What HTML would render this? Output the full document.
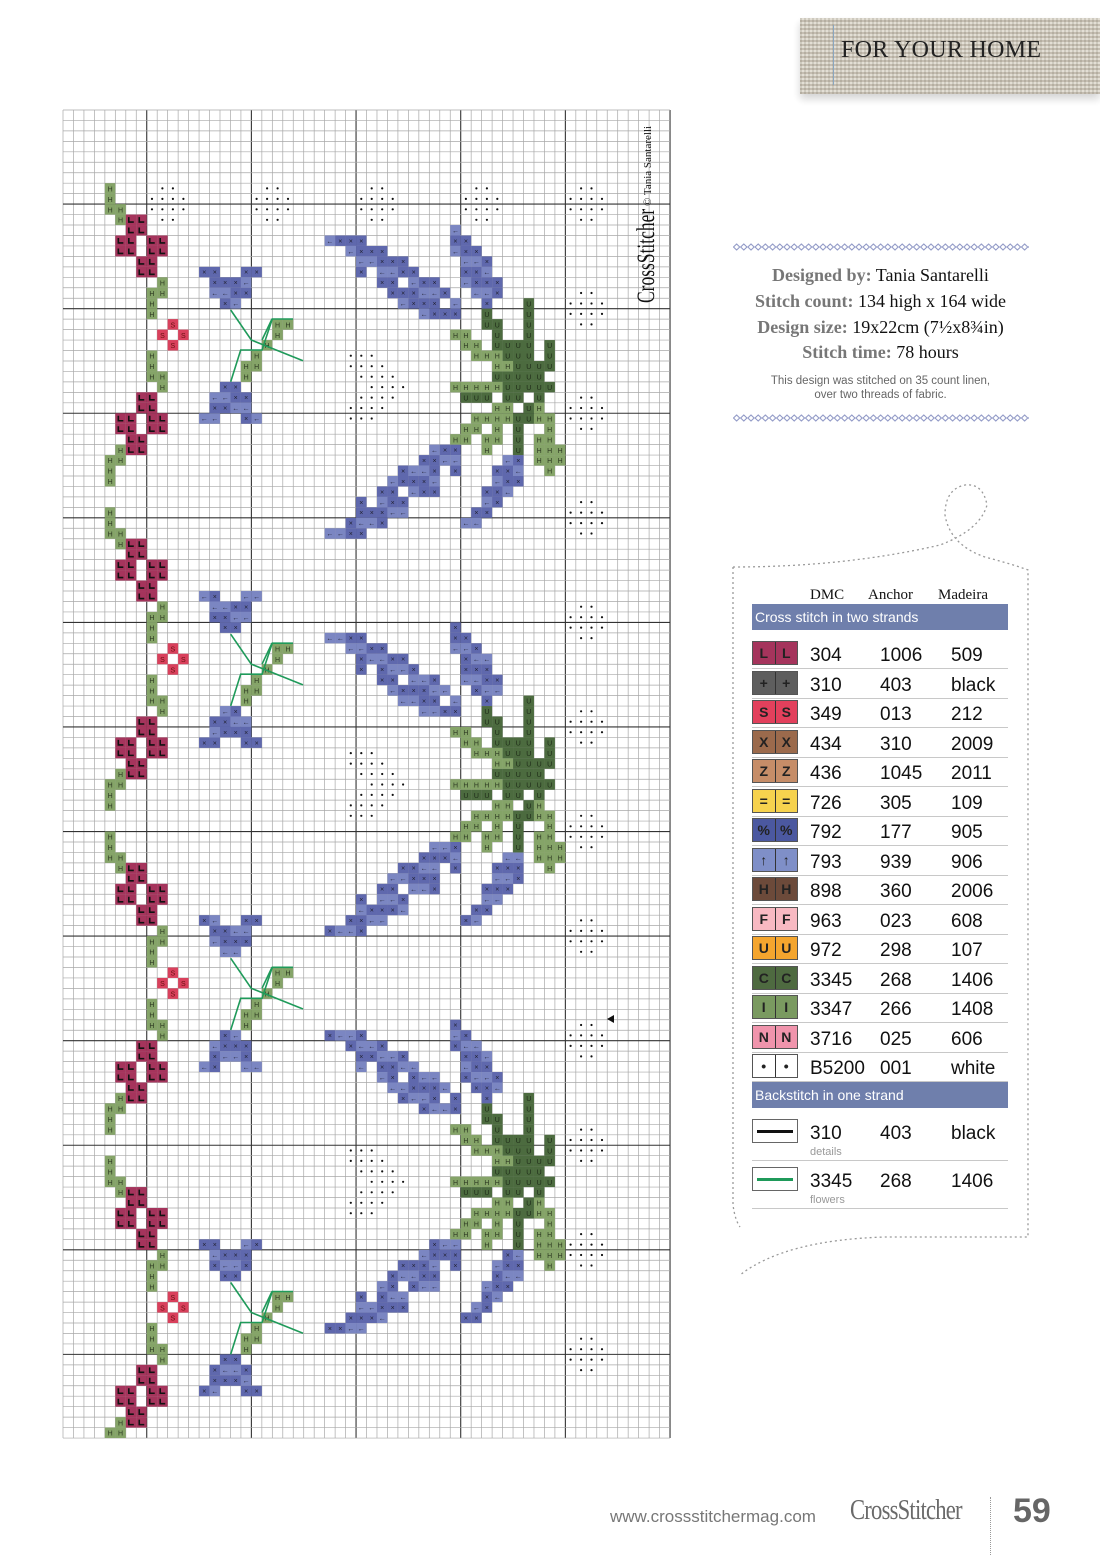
<!DOCTYPE html>
<html><head><meta charset="utf-8">
<style>
body{margin:0;background:#fff;}
#pg{position:relative;width:1100px;height:1555px;overflow:hidden;background:#fff;font-family:"Liberation Sans",sans-serif;}
.abs{position:absolute;}
.info{position:absolute;left:733px;width:295px;text-align:center;font-family:"Liberation Serif",serif;font-size:18px;color:#111;white-space:nowrap;}
.info b{color:#777;}
.row{position:absolute;left:752px;width:256px;height:28px;border-bottom:1px solid #c8c8c8;}
.sw{position:absolute;left:0;top:1px;width:44px;height:22px;border:1px solid #555;display:flex;}
.sw span{flex:1;display:flex;align-items:center;justify-content:center;font-size:14px;font-weight:bold;color:#222;border-right:1px solid #333;}
.sw span:last-child{border-right:none;}
.t{position:absolute;top:5px;font-size:19px;color:#111;}
.bar{position:absolute;left:752px;width:256px;height:26px;background:#6f7fac;color:#fff;font-size:14px;line-height:26px;padding-left:3px;box-sizing:border-box;}
</style></head><body>
<div id="pg">
<svg id="chart" class="abs" style="left:0;top:0" width="1100" height="1555"></svg>

<div class="abs" style="left:800px;top:18px;width:300px;height:76px;background:repeating-linear-gradient(90deg,#c4beb1 0 2px,#ddd8cc 2px 4px),#d2ccc0;box-shadow:0 5px 8px rgba(0,0,0,0.18);opacity:0.95"></div>
<div class="abs" style="left:800px;top:18px;width:300px;height:76px;background:repeating-linear-gradient(0deg,rgba(150,140,125,0.35) 0 2px,rgba(255,255,255,0.15) 2px 4px)"></div>
<div class="abs" style="left:833px;top:25px;width:1px;height:60px;background:#8aa6c0"></div>
<div class="abs" style="left:841px;top:37px;font-family:'Liberation Serif',serif;font-size:24px;color:#222;letter-spacing:0.3px">FOR YOUR HOME</div>

<svg class="abs" style="left:733px;top:242px" width="296" height="10"><defs><pattern id="dm" width="7.2" height="10" patternUnits="userSpaceOnUse"><path d="M0.5 5 L3.6 2 L6.7 5 L3.6 8Z" fill="none" stroke="#8c95c4" stroke-width="1"/></pattern></defs><rect width="296" height="10" fill="url(#dm)"/></svg>
<svg class="abs" style="left:733px;top:413px" width="296" height="10"><rect width="296" height="10" fill="url(#dm)"/></svg>

<div class="info" style="top:265px"><b>Designed by:</b> Tania Santarelli</div>
<div class="info" style="top:291px"><b>Stitch count:</b> 134 high x 164 wide</div>
<div class="info" style="top:317px"><b>Design size:</b> 19x22cm (7½x8¾in)</div>
<div class="info" style="top:342px"><b>Stitch time:</b> 78 hours</div>
<div class="abs" style="left:733px;top:374px;width:295px;text-align:center;font-size:11.5px;color:#666;line-height:14px">This design was stitched on 35 count linen,<br>over two threads of fabric.</div>

<svg class="abs" style="left:725px;top:475px" width="320" height="810">
<path d="M8 92 L8 730 Q10 745 15 752" fill="none" stroke="#999" stroke-width="1.3" stroke-dasharray="2 3"/>
<path d="M8 92 Q120 92 215 70 Q255 55 262 30 Q258 8 240 10 Q220 14 220 40 Q225 70 260 82 Q290 90 303 95 L303 762 L160 762 Q60 765 15 800" fill="none" stroke="#999" stroke-width="1.3" stroke-dasharray="2 3"/>
</svg>

<div class="abs" style="left:810px;top:587px;font-family:'Liberation Serif',serif;font-size:15px;color:#111">DMC</div>
<div class="abs" style="left:868px;top:587px;font-family:'Liberation Serif',serif;font-size:15px;color:#111">Anchor</div>
<div class="abs" style="left:938px;top:587px;font-family:'Liberation Serif',serif;font-size:15px;color:#111">Madeira</div>
<div class="bar" style="top:604px">Cross stitch in two strands</div>
<div id="legend"></div>
<div class="bar" style="top:1082px">Backstitch in one strand</div>
<div class="row" style="top:1118px;height:42px"><div class="sw" style="height:22px;border-color:#666"><div style="position:absolute;left:4px;right:4px;top:10px;height:3px;background:#111"></div></div><div class="t" style="left:58px">310</div><div class="t" style="left:128px">403</div><div class="t" style="left:199px">black</div><div class="abs" style="left:58px;top:28px;font-size:11px;color:#999">details</div></div>
<div class="row" style="top:1166px;height:42px"><div class="sw" style="height:22px;border-color:#666"><div style="position:absolute;left:4px;right:4px;top:10px;height:3px;background:#1f9a5a"></div></div><div class="t" style="left:58px">3345</div><div class="t" style="left:128px">268</div><div class="t" style="left:199px">1406</div><div class="abs" style="left:58px;top:28px;font-size:11px;color:#999">flowers</div></div>

<div class="abs" style="left:610px;top:1507px;font-size:17px;color:#777">www.crossstitchermag.com</div>
<div class="abs" style="left:850px;top:1494px;font-family:'Liberation Serif',serif;font-size:29px;color:#6a6a6a;transform:scaleX(0.78);transform-origin:left;letter-spacing:-1px">CrossStitcher</div>
<div class="abs" style="left:990px;top:1497px;width:0;height:58px;border-left:1.5px dotted #999"></div>
<div class="abs" style="left:1013px;top:1492px;font-size:34px;font-weight:bold;color:#666">59</div>
</div>
<script>
(function(){
var svg=document.getElementById('chart');
var X0=63,Y0=110,CW=10.466,CH=10.457,NC=58,NR=127;
var h='';
function R(x,y,w,hh,f){h+='<rect x="'+x.toFixed(2)+'" y="'+y.toFixed(2)+'" width="'+w.toFixed(2)+'" height="'+hh.toFixed(2)+'" fill="'+f+'"/>';}
var col={B:'#5f68ad',b:'#7b86c2',U:'#4c6b3f',H:'#85a468',L:'#a5345c',S:'#d9405c'};
var cells=[];
function cell(r,c,t){if(r<0||r>=NR||c<0||c>=NC)return;cells.push([r,c,t]);}
function spans(list,dr,t){list.forEach(function(s){var r=s[0]+dr;for(var i=1;i<s.length;i++){var a=s[i];if(typeof a==='number')cell(r,a,t);else for(var c=a[0];c<=a[1];c++)cell(r,c,t);}});}
var LH=[[7,4],[8,4],[9,4,5],[10,5],[16,9],[17,8,9],[18,8],[19,8],[23,8],[24,8],[25,8,9],[26,9],[32,5],[33,4,5],[34,4],[35,4],
[20,[20,21]],[21,20],[22,19],[23,18],[24,17,18],[25,17]];
var LL=[[10,6,7],[11,6,7],[12,5,6,8,9],[13,5,6,8,9],[14,7,8],[15,7,8],[27,7,8],[28,7,8],[29,5,6,8,9],[30,5,6,8,9],[31,6,7],[32,6,7]];
var LS=[[20,10],[21,9,11],[22,10]];
var LB=[[15,13,14,17,18],[16,[14,17]],[17,[14,17]],[18,15,16],[26,15,16],[27,[14,17]],[28,[14,17]],[29,13,14,17,18]];
var lines='';
for(var k=0;k<4;k++){var d=k*31;spans(LH,d,'H');spans(LL,d,'L');spans(LS,d,'S');spans(LB,d,'B');
var oy=d*CH;
lines+='<polyline points="230.7,'+(310+oy)+' 251.3,'+(340+oy)+' 303,'+(360.7+oy)+'" fill="none" stroke="#1f9a5a" stroke-width="1.6"/>';
lines+='<polyline points="230.7,'+(381.7+oy)+' 240.7,'+(350+oy)+' 262,'+(350+oy)+' 272.3,'+(319+oy)+' 293,'+(319+oy)+'" fill="none" stroke="#1f9a5a" stroke-width="1.6"/>';
lines+='<line x1="262" y1="'+(340+oy)+'" x2="272" y2="'+(319+oy)+'" stroke="#1f9a5a" stroke-width="1.6"/>';
}
var BB=[[11,37],[12,[25,28],37,38],[13,[27,30],[37,39]],[14,[28,32],[38,40]],[15,28,[30,33],[38,40]],[16,30,31,[33,35],[38,41]],[17,[31,36],[39,41]],[18,[32,35],37,40],[19,[34,37]],
[32,[35,37]],[33,[34,37],42,43],[34,[32,35],37,[41,43]],[35,[31,35],[41,43]],[36,30,31,[33,35],[40,42]],[37,28,[30,32],40,41],[38,[28,32],39,40],[39,[27,30],38,39],[40,[25,28]]];
var BU=[[18,44],[19,40,44],[20,40,41,44],[21,41,44],[22,[41,44],46],[23,[42,44],46],[24,[43,46]],[25,[41,45]],[26,[42,46]],[27,[38,40],42,43,45],[28,44],[29,43,44],[30,43],[31,43],[32,43]];
var BH=[[21,37,38],[22,38,39],[23,[39,41]],[24,41,42],[26,[37,41]],[28,41,42,45],[29,[39,42],45,46],[30,38,39,41,46],[31,37,38,40,41,45,46],[32,40,[45,47]],[33,[45,47]],[34,46]];
for(var k=0;k<3;k++){var d=k*38;spans(BB,d,'B');spans(BU,d,'U');spans(BH,d,'H');}
cells.forEach(function(e){var t=e[2];if(t==='B'&&((e[0]*3+e[1])%5<2))t='b';
var x=X0+e[1]*CW,y=Y0+e[0]*CH;R(x,y,CW,CH,col[t]);
if(t==='B'||t==='b'){h+='<text x="'+(x+CW/2)+'" y="'+(y+CH*0.75)+'" font-size="7" text-anchor="middle" fill="#223" font-family="Liberation Sans">'+(t==='B'?'×':'←')+'</text>';}
else if(t==='U'){h+='<text x="'+(x+CW/2)+'" y="'+(y+CH*0.78)+'" font-size="7" text-anchor="middle" fill="#1d2a17" font-family="Liberation Sans">U</text>';}
else if(t==='H'){h+='<text x="'+(x+CW/2)+'" y="'+(y+CH*0.78)+'" font-size="7" text-anchor="middle" fill="#2d3a22" font-family="Liberation Sans">H</text>';}
else if(t==='L'){h+='<path d="M'+(x+3)+' '+(y+2.5)+' V'+(y+7.5)+' H'+(x+8)+'" stroke="#111" stroke-width="1.6" fill="none"/>';}
else if(t==='S'){h+='<text x="'+(x+CW/2)+'" y="'+(y+CH*0.78)+'" font-size="7" text-anchor="middle" fill="#611" font-family="Liberation Sans">S</text>';}
});
var dots='';
function dot(r,c){dots+='<circle cx="'+(X0+(c+0.5)*CW).toFixed(1)+'" cy="'+(Y0+(r+0.5)*CH).toFixed(1)+'" r="1.1" fill="#111"/>';}
function dpat(r,c){dot(r,c+1);dot(r,c+2);dot(r+1,c);dot(r+1,c+1);dot(r+1,c+2);dot(r+1,c+3);dot(r+2,c);dot(r+2,c+1);dot(r+2,c+2);dot(r+2,c+3);dot(r+3,c+1);dot(r+3,c+2);}
[8,18,28,38].forEach(function(c){dpat(7,c);});
for(var k=0;k<12;k++){dpat(7+k*10,48);}
for(var k=0;k<3;k++){var d=k*38;[[23,27,28,29],[24,27,28,29,30],[25,28,29,30,31],[26,29,30,31,32],[27,28,29,30,31],[28,27,28,29,30],[29,27,28,29]].forEach(function(s){for(var i=1;i<s.length;i++)dot(s[0]+d,s[i]);});}
dots+='<polygon points="607,1019 614,1015 614,1023" fill="#111"/>';
var g='';
for(var c=0;c<=NC;c++){var x=X0+c*CW;var maj=(c-8)%10===0;g+='<line x1="'+x.toFixed(2)+'" y1="'+Y0+'" x2="'+x.toFixed(2)+'" y2="'+(Y0+NR*CH)+'" stroke="'+(maj?'#333':'#a8a8a8')+'" stroke-width="'+(maj?1.1:0.7)+'"/>';}
for(var r=0;r<=NR;r++){var y=Y0+r*CH;var maj=(r-9)%10===0;g+='<line x1="'+X0+'" y1="'+y.toFixed(2)+'" x2="'+(X0+NC*CW)+'" y2="'+y.toFixed(2)+'" stroke="'+(maj?'#333':'#a8a8a8')+'" stroke-width="'+(maj?1.1:0.7)+'"/>';}
var txt='<g transform="translate(654,303) rotate(-90)"><text x="0" y="0" font-family="Liberation Serif" font-size="25" fill="#111" transform="scale(0.7,1)">CrossStitcher</text><text x="97" y="-3" font-family="Liberation Serif" font-size="11" fill="#111">© Tania Santarelli</text></g>';
svg.innerHTML='<rect x="'+X0+'" y="'+Y0+'" width="'+(NC*CW)+'" height="'+(NR*CH)+'" fill="#fff"/>'+g+h+lines+dots+txt;
var L=[['#a5345c','L','304','1006','509'],['#5e5e5e','+','310','403','black'],['#e2405c','S','349','013','212'],['#9b6a4c','X','434','310','2009'],['#c68d68','Z','436','1045','2011'],['#f6d24e','=','726','305','109'],['#4b58a0','%','792','177','905'],['#7f8fc8','↑','793','939','906'],['#6c4a3a','H','898','360','2006'],['#f8b9c2','F','963','023','608'],['#f4a52e','U','972','298','107'],['#4e6a40','C','3345','268','1406'],['#7a9a60','I','3347','266','1408'],['#f094ac','N','3716','025','606'],['#ffffff','•','B5200','001','white']];
var o='';L.forEach(function(e,i){var top=640+i*29.5;
o+='<div class="row" style="top:'+top+'px"><div class="sw" style="background:'+e[0]+'"><span>'+e[1]+'</span><span>'+e[1]+'</span></div><div class="t" style="left:58px">'+e[2]+'</div><div class="t" style="left:128px">'+e[3]+'</div><div class="t" style="left:199px">'+e[4]+'</div></div>';});
document.getElementById('legend').innerHTML=o;
})();
</script>
</body></html>
